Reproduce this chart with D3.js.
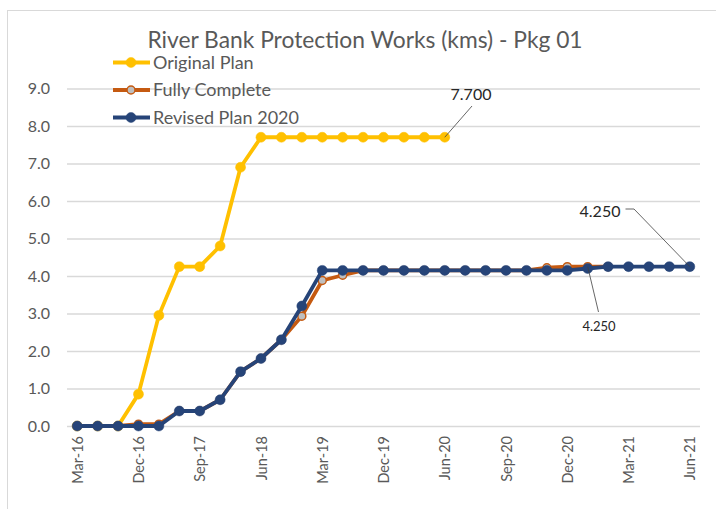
<!DOCTYPE html>
<html>
<head>
<meta charset="utf-8">
<script src="https://cdn.jsdelivr.net/npm/d3@7"></script>
<style>
  body { margin: 0; background: #fff; }
  text { font-family: Lato, "Open Sans", sans-serif; }
</style>
</head>
<body>
<script>
// categories on the x axis (quarterly, then monthly from mid 2020)
var categories = ["Mar-16", "Jun-16", "Sep-16", "Dec-16", "Mar-17", "Jun-17", "Sep-17", "Dec-17",
  "Mar-18", "Jun-18", "Sep-18", "Dec-18", "Mar-19", "Jun-19", "Sep-19", "Dec-19",
  "Mar-20", "May-20", "Jun-20", "Jul-20", "Aug-20", "Sep-20", "Oct-20", "Nov-20",
  "Dec-20", "Jan-21", "Feb-21", "Mar-21", "Apr-21", "May-21", "Jun-21"];

var originalPlan = [0, 0, 0, 0.85, 2.95, 4.25, 4.25, 4.8, 6.9, 7.7, 7.7, 7.7, 7.7, 7.7, 7.7, 7.7,
  7.7, 7.7, 7.7, null, null, null, null, null, null, null, null, null, null, null, null];

var fullyComplete = [0, 0, 0, 0.05, 0.05, 0.4, 0.4, 0.7, 1.45, 1.8, 2.3, 2.93, 3.88, 4.02, 4.15, 4.15,
  4.15, 4.15, 4.15, 4.15, 4.15, 4.15, 4.15, 4.22, 4.25, 4.25, 4.25, null, null, null, null];

var revisedPlan2020 = [0, 0, 0, 0, 0, 0.4, 0.4, 0.7, 1.45, 1.8, 2.3, 3.2, 4.15, 4.15, 4.15, 4.15,
  4.15, 4.15, 4.15, 4.15, 4.15, 4.15, 4.15, 4.15, 4.15, 4.2, 4.25, 4.25, 4.25, 4.25, 4.25];

var yTicks = [0, 1, 2, 3, 4, 5, 6, 7, 8, 9];
var seriesNames = ["Original Plan", "Fully Complete", "Revised Plan 2020"];

window.onload = () => {
  var W = 716, H = 509;
  var margin = { top: 88.5, right: 16, bottom: 83, left: 67 },
    width = W - margin.left - margin.right,
    height = H - margin.top - margin.bottom;

  var svg = d3.select("body").append("svg")
    .attr("width", W).attr("height", H);

  // chart border
  svg.append("rect")
    .attr("x", 7.5).attr("y", 10.5)
    .attr("width", 740).attr("height", 540)
    .attr("fill", "none").attr("stroke", "#d9d9d9");

  var g = svg.append("g")
    .attr("transform", "translate(" + margin.left + "," + margin.top + ")");

  var x = d3.scalePoint().domain(categories).range([0, width]).padding(0.5);
  var y = d3.scaleLinear().domain([0, 9]).range([height, 0]);

  // y axis with gridlines
  var yAxis = g.append("g")
    .call(d3.axisLeft(y).tickValues(yTicks).tickSize(-width).tickPadding(17).tickFormat(d3.format(".1f")));
  yAxis.select(".domain").remove();
  yAxis.selectAll("line").attr("stroke", "#d9d9d9").attr("stroke-width", 1.3);
  yAxis.selectAll("text").attr("fill", "#595959").style("font-size", "16px");

  // x axis (labels every third category)
  var xAxis = g.append("g")
    .attr("transform", "translate(0," + height + ")")
    .call(d3.axisBottom(x).tickValues(categories.filter((c, i) => i % 3 === 0)).tickSize(0));
  xAxis.select(".domain").remove();
  xAxis.selectAll("text")
    .attr("fill", "#595959")
    .style("font-size", "14.5px")
    .attr("text-anchor", "end")
    .attr("transform", "rotate(-90)")
    .attr("x", -10).attr("y", 0).attr("dy", "0.35em");

  var colors = { "Original Plan": "#FFC000", "Fully Complete": "#C55A11", "Revised Plan 2020": "#264478" };
  var fills = { "Original Plan": "#FFC000", "Fully Complete": "#BFBFBF", "Revised Plan 2020": "#264478" };
  var allData = { "Original Plan": originalPlan, "Fully Complete": fullyComplete, "Revised Plan 2020": revisedPlan2020 };

  var line = d3.line()
    .defined(d => d.v != null)
    .x(d => x(d.c))
    .y(d => y(d.v));

  seriesNames.forEach(name => {
    var pts = allData[name].map((v, i) => ({ c: categories[i], v: v }));
    g.append("path")
      .datum(pts)
      .attr("fill", "none")
      .attr("stroke", colors[name])
      .attr("stroke-width", 3.8)
      .attr("stroke-linejoin", "round")
      .attr("d", line);
    g.selectAll(null)
      .data(pts.filter(d => d.v != null))
      .enter()
      .append("circle")
      .attr("cx", d => x(d.c))
      .attr("cy", d => y(d.v))
      .attr("r", name === "Fully Complete" ? 4 : 5)
      .attr("fill", fills[name])
      .attr("stroke", colors[name])
      .attr("stroke-width", name === "Fully Complete" ? 1.5 : 0.5);
  });

  // data labels with leader lines
  function label(cat, val, tx, ty, size, color, path) {
    var px = x(cat) + margin.left, py = y(val) + margin.top;
    svg.append("path")
      .attr("d", path(px, py))
      .attr("fill", "none")
      .attr("stroke", "#404040")
      .attr("stroke-width", 0.8);
    svg.append("text")
      .attr("x", tx).attr("y", ty)
      .attr("text-anchor", "middle")
      .attr("fill", color)
      .style("font-size", size + "px")
      .text(d3.format(".3f")(val));
  }
  label("Jun-20", originalPlan[18], 471, 99.5, 16, "#262626",
    (px, py) => "M472,106L" + px + "," + py);
  label("Jun-21", revisedPlan2020[30], 600, 216.5, 16, "#262626",
    (px, py) => "M625.5,209L634,209L" + px + "," + py);
  label("Jan-21", fullyComplete[25], 599, 331, 13, "#262626",
    (px, py) => "M598.5,312L" + px + "," + py);

  // title
  svg.append("text")
    .attr("x", 365).attr("y", 47.5)
    .attr("text-anchor", "middle")
    .attr("fill", "#595959")
    .style("font-size", "22.8px")
    .text("River Bank Protection Works (kms) - Pkg 01");

  // legend
  var legend = svg.selectAll(".legend")
    .data(seriesNames)
    .enter()
    .append("g")
    .attr("transform", (d, i) => "translate(113," + (62.5 + i * 27.5) + ")");
  legend.append("line")
    .attr("x1", 0).attr("x2", 37)
    .attr("stroke", d => colors[d]).attr("stroke-width", 3.8);
  legend.append("circle")
    .attr("cx", 18).attr("r", d => d === "Fully Complete" ? 4 : 5)
    .attr("fill", d => fills[d])
    .attr("stroke", d => colors[d])
    .attr("stroke-width", d => d === "Fully Complete" ? 1.5 : 0.5);
  legend.append("text")
    .attr("x", 40).attr("dy", "0.35em")
    .attr("fill", "#595959")
    .style("font-size", "18px")
    .text(d => d);
};
</script>
</body>
</html>
